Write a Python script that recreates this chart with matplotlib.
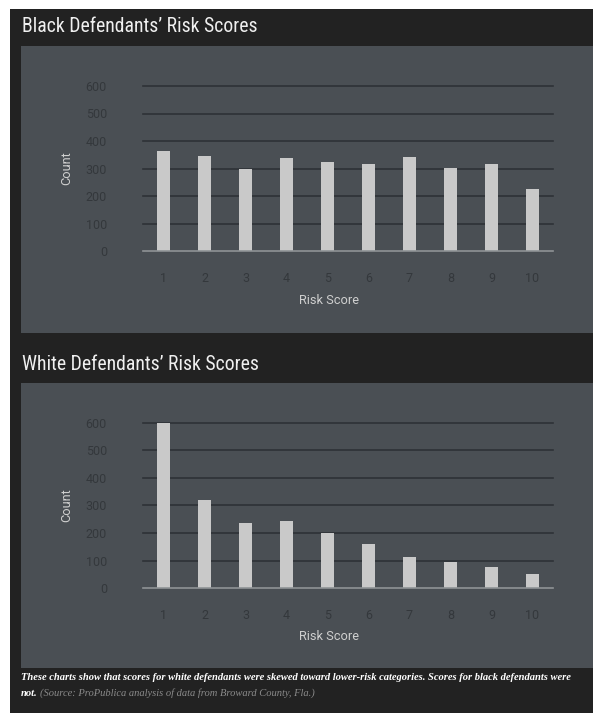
import matplotlib.pyplot as plt
from matplotlib.patches import Rectangle

# ------------------------------------------------------------
# Data
# ------------------------------------------------------------
risk_scores = [1, 2, 3, 4, 5, 6, 7, 8, 9, 10]
black_counts = [365, 346, 298, 337, 323, 318, 343, 301, 317, 227]
white_counts = [605, 321, 238, 243, 200, 160, 113, 96, 77, 50]
y_ticks = [0, 100, 200, 300, 400, 500, 600]

titles = ["Black Defendants\u2019 Risk Scores", "White Defendants\u2019 Risk Scores"]
caption_1 = ("These charts show that scores for white defendants were skewed toward "
             "lower-risk categories. Scores for black defendants were")
caption_2a = "not."
caption_2b = "(Source: ProPublica analysis of data from Broward County, Fla.)"

# ------------------------------------------------------------
# Style
# ------------------------------------------------------------
W, H = 593, 713
DARK = "#222222"
PANEL = "#4a4f54"
BAR = "#c9c9c9"
GRID = "#2e3236"
BASE = "#8f9396"
TICK = "#34383c"
LABEL = "#cfcfcf"
title_font = ["Roboto Condensed", "Roboto", "DejaVu Sans"]
plt.rcParams["font.family"] = ["Roboto", "DejaVu Sans"]


def fx(px):
    return px / W


def fy(py):
    return 1 - py / H


fig = plt.figure(figsize=(W / 100, H / 100), dpi=100, facecolor="white")

# dark background and grey panels
fig.patches.append(Rectangle((fx(10), 0), 1 - fx(10), fy(9), transform=fig.transFigure,
                             facecolor=DARK, edgecolor="none", zorder=-2))
for top, bottom in [(46, 333), (383, 668)]:
    fig.patches.append(Rectangle((fx(21), fy(bottom)), 1 - fx(21), (bottom - top) / H,
                                 transform=fig.transFigure, facecolor=PANEL,
                                 edgecolor="none", zorder=-1))

panels = [
    (titles[0], black_counts, 26, 86, 251),
    (titles[1], white_counts, 364, 423, 588),
]

for title, counts, title_y, ax_top, ax_bottom in panels:
    fig.text(fx(22), fy(title_y), title, color="#f0f0f0", fontsize=14.2,
             family=title_font, va="center", ha="left")

    ax = fig.add_axes([fx(143), fy(ax_bottom), fx(553) - fx(143), (ax_bottom - ax_top) / H])
    ax.set_zorder(2)
    ax.set_facecolor("none")
    ax.bar(risk_scores, counts, width=0.33, color=BAR, zorder=3)
    ax.set_xlim(0.5, 10.5)
    ax.set_ylim(0, 600)
    ax.set_yticks(y_ticks)
    ax.set_xticks(risk_scores)
    for t in y_ticks[1:]:
        ax.axhline(t, color=GRID, linewidth=1.2, zorder=1, clip_on=False)
    ax.axhline(0, color=BASE, linewidth=1.2, zorder=4, clip_on=False)
    for s in ax.spines.values():
        s.set_visible(False)
    ax.tick_params(axis="both", length=0, colors=TICK, labelsize=9)
    ax.tick_params(axis="y", pad=26)
    ax.tick_params(axis="x", pad=15)

    fig.text(fx(67), fy((ax_top + ax_bottom) / 2), "Count", rotation=90,
             color=LABEL, fontsize=9.2, ha="center", va="center")
    fig.text(fx(329), fy(ax_bottom + 49), "Risk Score", color=LABEL,
             fontsize=9.2, ha="center", va="center")

# caption
fig.text(fx(21), fy(677), caption_1, color="white", fontsize=7.6,
         family="Liberation Serif", style="italic", weight="bold", va="center")
fig.text(fx(21), fy(693), caption_2a, color="white", fontsize=7.6,
         family="Liberation Serif", style="italic", weight="bold", va="center")
fig.text(fx(40), fy(693), caption_2b, color="#8a8a8a", fontsize=7.6,
         family="Liberation Serif", style="italic", va="center")

fig.savefig("out.png", dpi=100, facecolor="white")
